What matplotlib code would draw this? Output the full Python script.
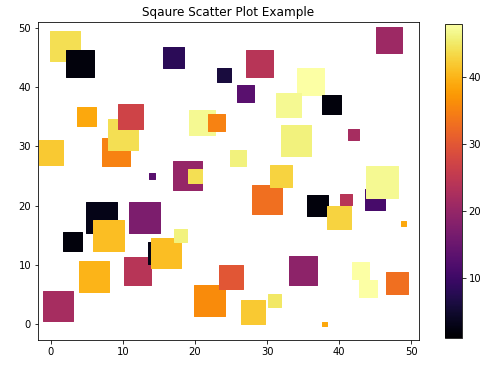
import matplotlib
matplotlib.use("Agg")
import matplotlib.pyplot as plt
import numpy as np

x = [2, 4, 17, 24, 5, 9, 10, 11, 0, 21, 23, 14, 19, 20, 47, 29, 27, 36, 39, 33,
     42, 34, 26, 30, 32, 37, 41, 40, 45, 46, 49, 35, 22, 25, 28, 31, 38, 43, 44, 48,
     7, 3, 8, 13, 12, 15, 16, 18, 6, 1]
y = [47, 44, 45, 42, 35, 29, 32, 35, 29, 34, 34, 25, 25, 25, 48, 44, 39, 41, 37, 37,
     32, 31, 28, 21, 25, 20, 21, 18, 21, 24, 17, 9, 4, 8, 2, 4, 0, 9, 6, 7,
     18, 14, 15, 18, 9, 12, 12, 15, 8, 3]
sizes = [900, 767, 471, 210, 361, 784, 942, 610, 610, 660, 313, 32, 841, 196, 676, 729, 289, 729, 361, 600,
         110, 930, 246, 870, 484, 471, 137, 552, 412, 1005, 25, 812, 992, 576, 576, 169, 22, 300, 300, 484,
         1005, 361, 961, 918, 767, 497, 870, 169, 930, 918]
colors = [44, 2, 8, 6, 39, 35, 44, 27, 42, 47, 35, 13, 20, 44, 21, 24, 13, 48, 2, 47,
          22, 46, 46, 33, 43, 2, 24, 43, 11, 47, 39, 19, 36, 30, 42, 45, 39, 48, 48, 33,
          3, 2, 41, 17, 24, 3, 41, 46, 40, 22]
color_range = (1, 48)

plt.rcParams['font.family'] = ['DejaVu Sans']
fig = plt.figure(figsize=(500/72, 372/72), dpi=72)
ax = fig.add_axes([0.076, 0.086, 0.762, 0.855])
sc = ax.scatter(x, y, s=sizes, c=colors, marker='s', cmap='inferno', linewidths=1,
                vmin=color_range[0], vmax=color_range[1])
ax.set_xlim(-1.8, 51.1)
ax.set_ylim(-2.7, 51.0)
ax.set_xticks([0, 10, 20, 30, 40, 50])
ax.set_yticks([0, 10, 20, 30, 40, 50])
ax.tick_params(labelsize=10)
ax.set_title("Sqaure Scatter Plot Example", fontsize=12)
cax = fig.add_axes([0.89, 0.0914, 0.0334, 0.844])
cb = fig.colorbar(sc, cax=cax)
cb.set_ticks([10, 20, 30, 40])
cb.ax.tick_params(labelsize=10)
fig.savefig("out.png", dpi=72)
